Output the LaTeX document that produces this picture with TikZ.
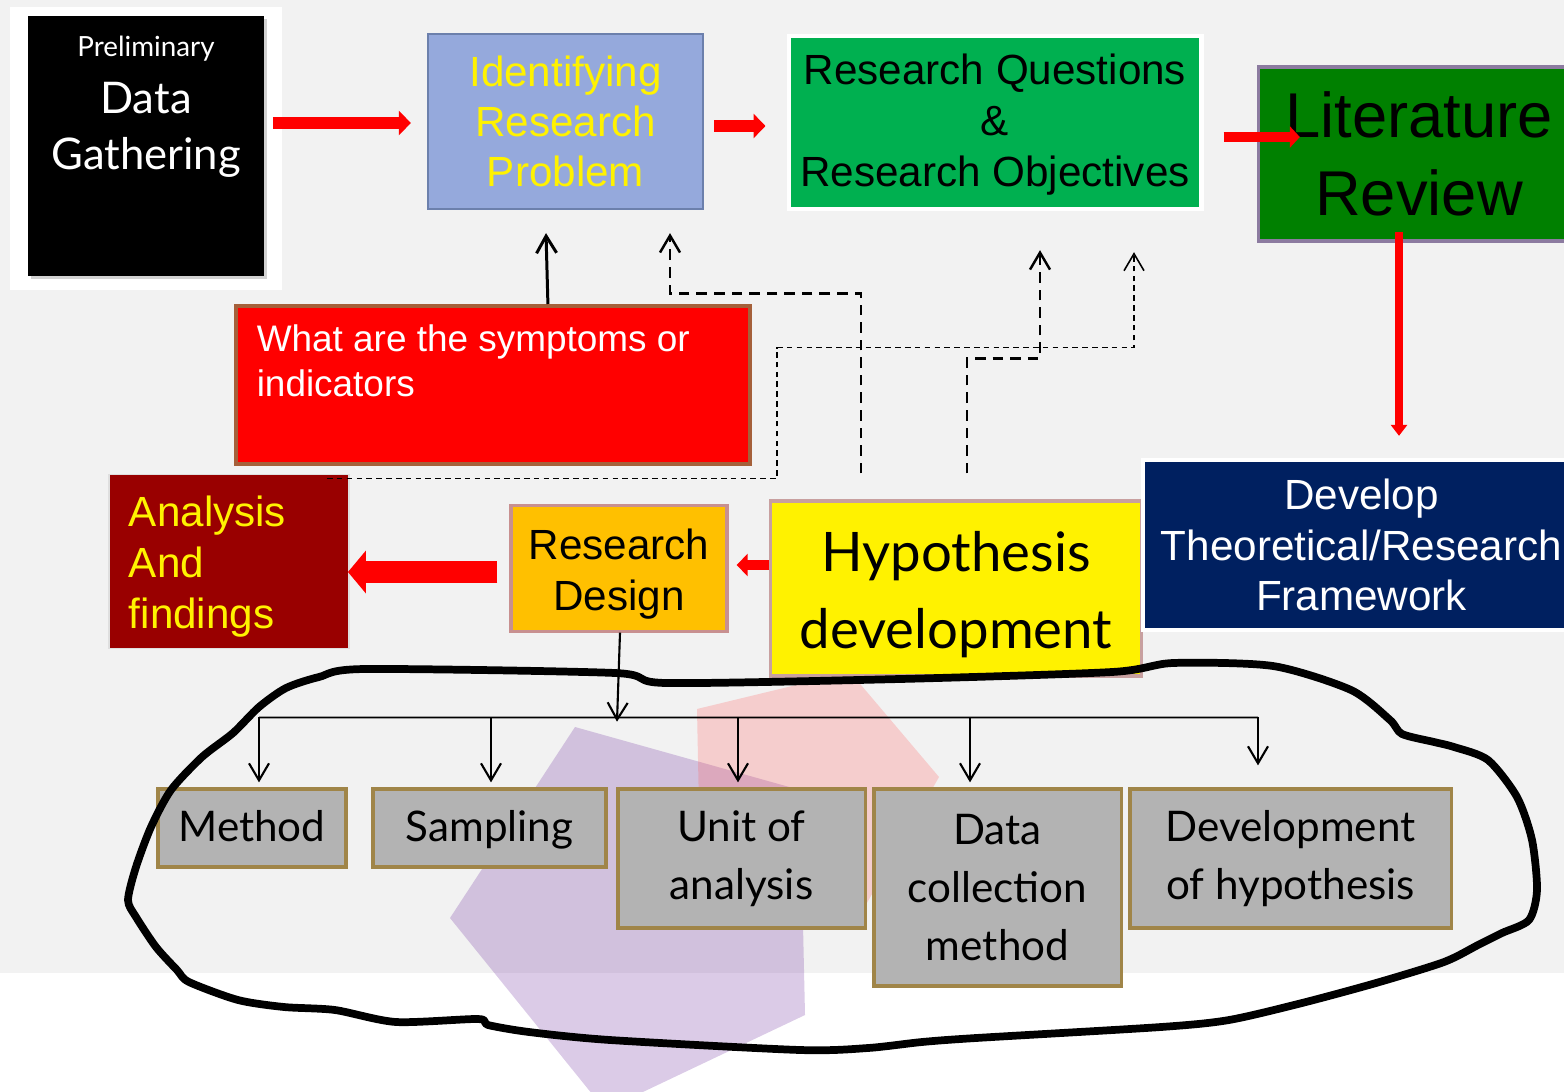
\documentclass[tikz,border=0pt]{standalone}
\usepackage{fontspec}
\setmainfont{Liberation Sans}
\newfontfamily\futura{Lato}
\usetikzlibrary{arrows.meta,calc,shadows}

\definecolor{slidegray}{HTML}{F2F2F2}
\definecolor{identblue}{HTML}{95A9DC}
\definecolor{identedge}{HTML}{6C80AC}
\definecolor{rqgreen}{HTML}{00B050}
\definecolor{litgreen}{HTML}{008000}
\definecolor{litedge}{HTML}{8C7BA0}
\definecolor{symedge}{HTML}{A5603A}
\definecolor{anared}{HTML}{990000}
\definecolor{rdorange}{HTML}{FFC000}
\definecolor{rdedge}{HTML}{C89090}
\definecolor{hypedge}{HTML}{C8A0A0}
\definecolor{navy}{HTML}{002060}
\definecolor{boxgray}{HTML}{B3B3B3}
\definecolor{boxedge}{HTML}{A08548}
\definecolor{polyviolet}{HTML}{7030A0}
\definecolor{polypink}{HTML}{FF6060}

\begin{document}
\begin{tikzpicture}[x=0.01cm,y=-0.01cm,
    subbox/.style={draw=boxedge,line width=0.9pt,fill=boxgray,align=center,
      minimum height=0.78cm,font=\futura\fontsize{12}{16.5}\selectfont},
    redarrow/.style={draw=red,line width=0.11cm,-{Triangle[length=0.12cm,width=0.24cm]}},
    openarrow/.style={-{Straight Barb[length=0.17cm,width=0.2cm]}},
    dashline/.style={line width=0.7pt,dash pattern=on 3pt off 2pt},
    dotline/.style={line width=0.45pt,dash pattern=on 1.6pt off 1.2pt}]
    \useasboundingbox (0,0) rectangle (1564,1091);
    \fill[slidegray] (0,0) rectangle (1564,973);

    % shapes behind the boxes
    \fill[polyviolet,opacity=0.25] (575,727) -- (800,790) -- (805,1015)
      -- (605,1110) -- (450,918) -- cycle;
    \fill[polypink,opacity=0.25] (697,709) -- (850,672) -- (939,777)
      -- (860,915) -- (700,860) -- cycle;

    % top row
    \fill[white] (10,7) rectangle (282,290);
    \node[fill=black,text=white,inner sep=0pt,
      drop shadow={shadow xshift=0.03cm,shadow yshift=-0.03cm,opacity=0.35}]
      (prelim) at (146,146) {\parbox[c][2.6cm][t]{2.36cm}{\centering\futura
        \rule{0pt}{0.41cm}{\fontsize{7.9}{9}\selectfont Preliminary}\\
        \fontsize{12.4}{16}\selectfont Data\\Gathering}};
    \node[draw=identedge,line width=0.6pt,fill=identblue,text=yellow,align=center,
      minimum width=2.75cm,minimum height=1.75cm,font=\fontsize{12}{14.3}\selectfont]
      (ident) at (565.5,121.5) {Identifying\\Research\\Problem};
    \node[draw=white,line width=1.2pt,fill=rqgreen,align=center,
      minimum width=4.04cm,minimum height=1.73cm,font=\fontsize{12}{14.5}\selectfont]
      (rq) at (995,122.5) {\rule{0pt}{0.34cm}Research Questions\\\&\\Research Objectives};
    \node[draw=litedge,line width=0.9pt,fill=litgreen,align=center,
      minimum width=3.21cm,minimum height=1.74cm,font=\fontsize{18}{22}\selectfont]
      (lit) at (1419,154) {Literature\\Review};

    % middle row
    \node[draw=symedge,line width=1pt,fill=red,text=white,inner sep=0pt,anchor=north west]
      (sym) at (234,304) {\parbox[c][1.58cm][t]{5.14cm}{\raggedright\leftskip=0.21cm
        \fontsize{10.5}{12.8}\selectfont\rule{0pt}{0.46cm}What are the symptoms or\\indicators}};
    \node[draw=gray!25,line width=0.5pt,fill=anared,text=yellow,align=left,
      inner xsep=0.2cm,text width=2.0cm,minimum height=1.73cm,font=\fontsize{12}{14.5}\selectfont]
      (ana) at (229,561.5) {\rule{0pt}{0.4cm}Analysis\\And\\findings};
    \node[draw=rdedge,line width=0.9pt,fill=rdorange,align=center,
      minimum width=2.16cm,minimum height=1.23cm,font=\fontsize{12}{14.5}\selectfont]
      (rd) at (619,568.5) {\rule{0pt}{0.42cm}Research\\Design};
    \node[draw=hypedge,line width=0.9pt,fill=yellow,align=center,
      minimum width=3.70cm,minimum height=1.75cm,font=\futura\fontsize{15.5}{22}\selectfont]
      (hyp) at (956,588.5) {\rule{0pt}{0.52cm}Hypothesis\\development};
    \node[draw=white,line width=1.2pt,fill=navy,text=white,align=center,
      minimum width=4.37cm,minimum height=1.70cm,font=\fontsize{12}{14.3}\selectfont]
      (dev) at (1361.5,545) {Develop\\Theoretical/Research\\Framework};

    % bottom row
    \node[subbox,minimum width=1.88cm] (method) at (252,828) {\rule{0pt}{0.34cm}Method\vphantom{g}};
    \node[subbox,minimum width=2.33cm] (sampling) at (489.5,828) {\rule{0pt}{0.34cm}Sampling};
    \node[subbox,minimum width=2.47cm,minimum height=1.39cm] (unit) at (741.5,858.5) {Unit of\\analysis};
    \node[subbox,minimum width=2.47cm,minimum height=1.97cm] (datacoll) at (997.5,887.5) {Data\\collection\\method};
    \node[subbox,minimum width=3.21cm,minimum height=1.39cm] (devhyp) at (1290.5,858.5) {Development\\of hypothesis};

    % red arrows
    \draw[redarrow] ($(prelim.east |- ident.west)+(8,1.5)$) -- ($(ident.west)+(-16,1.5)$);
    \draw[redarrow] ($(ident.east)+(10,4.5)$) -- ($(rq.west)+(-21,3.5)$);
    \draw[redarrow,line width=0.1cm,-{Triangle[length=0.1cm,width=0.21cm]}]
      ($(rq.east)+(20,14.5)$) -- ($(lit.west)+(43,-17)$);
    \draw[red,line width=0.08cm,-{Triangle[length=0.11cm,width=0.16cm]}]
      ($(lit.south)+(-20,-11)$) -- ($(dev.north)+(37.5,-22)$);
    \draw[red,line width=0.1cm,-{Triangle[length=0.11cm,width=0.22cm]}]
      ($(hyp.west)+(0,-23.5)$) -- ($(rd.east)+(8,-3.5)$);
    \draw[red,line width=0.21cm,-{Triangle[length=0.18cm,width=0.42cm]}]
      ($(rd.west)+(-12,3.5)$) -- ($(ana.east)+(-2,10.5)$);

    % black connectors
    \draw[openarrow,line width=0.85pt] ($(sym.north)+(55,0)$) -- ($(ident.south)+(-19.5,23)$);
    \draw[dashline,openarrow] ($(hyp.north)+(-95,-26)$) -- ++(0,-180)
      -| ($(ident.south)+(104.5,23)$);
    \draw[dashline,openarrow] ($(hyp.north)+(11,-26)$) -- ++(0,-115)
      -| ($(rq.south)+(45,39)$);
    \draw[dotline,openarrow] ($(sym.south west)+(93,13)$) -- ++(450,0) -- ++(0,-131)
      -| ($(rq.south)+(139,41)$);

    \coordinate (bus) at ($(rd.south)+(-2,89)$);
    \draw[openarrow,line width=0.6pt] ($(rd.south)+(1,0)$) -- (bus);
    \draw[line width=0.5pt] ($(method.north)+(7,-70)$) -- ($(devhyp.north)+(-32.5,-70)$);
    \foreach \b/\dx in {method/7,sampling/1.5,unit/-3.5,datacoll/-27.5}
      \draw[openarrow,line width=0.6pt] ($(\b.north)+(\dx,-70)$) -- ($(\b.north)+(\dx,-5)$);
    \draw[openarrow,line width=0.6pt] ($(devhyp.north)+(-32.5,-70)$) -- ($(devhyp.north)+(-32.5,-22)$);

    % hand drawn loop
    \draw[line width=2.2pt,line join=round] plot[smooth cycle,tension=0.45] coordinates {
      (259,707) (286,688) (319,677) (365,669) (615,673) (666,683) (900,679)
      (1112,672) (1173,663) (1273,666) (1351,690) (1390,720) (1402,734)
      (1434,742) (1454,747) (1488,760) (1517,797) (1532,840) (1537,890)
      (1529,920) (1502,933) (1478,945) (1444,962) (1376,983) (1302,1003)
      (1229,1020) (1161,1027) (976,1038) (922,1042) (868,1048) (800,1050)
      (610,1040) (529,1032) (488,1025) (478,1019) (396,1022) (335,1010)
      (284,1007) (238,1000) (189,982) (177,970) (156,947) (136,917)
      (128,900) (136,867) (151,827) (171,790) (202,757) (233,733)};
\end{tikzpicture}
\end{document}
